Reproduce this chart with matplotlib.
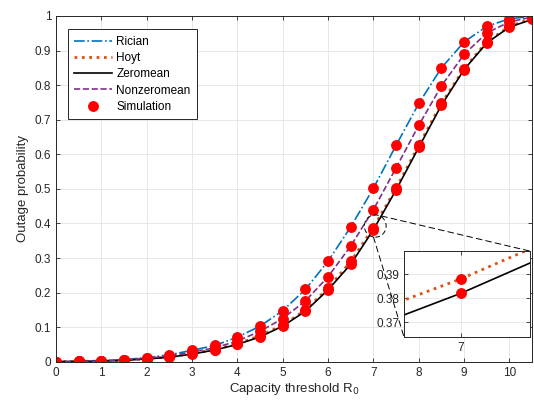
import matplotlib
matplotlib.use('Agg')
import matplotlib.pyplot as plt
from matplotlib.patches import Ellipse, ConnectionPatch

plt.rcParams['font.family'] = ['Liberation Sans', 'DejaVu Sans']

# capacity thresholds R0
thresholds = [0, 0.5, 1, 1.5, 2, 2.5, 3, 3.5, 4, 4.5, 5, 5.5,
              6, 6.5, 7, 7.5, 8, 8.5, 9, 9.5, 10, 10.5]

# outage probability per fading model
rician = [0, 0.001, 0.003, 0.006, 0.012, 0.02, 0.033, 0.047, 0.071, 0.103, 0.148, 0.209,
          0.291, 0.39, 0.502, 0.626, 0.747, 0.85, 0.925, 0.97, 0.992, 0.999]
hoyt = [0, 0.001, 0.002, 0.004, 0.009, 0.014, 0.024, 0.035, 0.052, 0.075, 0.106, 0.149,
        0.213, 0.29, 0.388, 0.502, 0.626, 0.747, 0.848, 0.925, 0.97, 0.993]
zeromean = [0, 0.001, 0.002, 0.004, 0.008, 0.013, 0.022, 0.034, 0.05, 0.072, 0.103, 0.146,
            0.208, 0.282, 0.382, 0.497, 0.62, 0.742, 0.845, 0.922, 0.968, 0.99]
nonzeromean = [0, 0.001, 0.002, 0.005, 0.01, 0.017, 0.028, 0.04, 0.06, 0.088, 0.125, 0.176,
               0.246, 0.335, 0.44, 0.561, 0.684, 0.798, 0.889, 0.951, 0.983, 0.997]

series = [
    ('Rician', rician, dict(color='#0072BD', linestyle='-.', linewidth=1.2)),
    ('Hoyt', hoyt, dict(color='#D95319', linestyle=':', linewidth=2.0)),
    ('Zeromean', zeromean, dict(color='black', linestyle='-', linewidth=1.2)),
    ('Nonzeromean', nonzeromean, dict(color='#7E2F8E', linestyle='--', linewidth=1.2)),
]

x_ticks = list(range(0, 11))
y_ticks = [0, 0.1, 0.2, 0.3, 0.4, 0.5, 0.6, 0.7, 0.8, 0.9, 1]
y_ticklabels = ['0', '0.1', '0.2', '0.3', '0.4', '0.5', '0.6', '0.7', '0.8', '0.9', '1']

axis_col = '#262626'
grid_col = '#e8e8e8'


def style_axes(a, size):
    a.tick_params(direction='in', top=True, right=True, labelsize=size,
                  colors=axis_col, length=3, width=0.6)
    for s in a.spines.values():
        s.set_color(axis_col)
        s.set_linewidth(0.7)
    a.grid(True, color=grid_col, linewidth=0.7)
    a.set_axisbelow(True)


fig = plt.figure(figsize=(5.34, 4.09), dpi=100)
ax = fig.add_axes([0.105, 0.1156, 0.8915, 0.8453])

for name, vals, kw in series:
    ax.plot(thresholds, vals, label=name, **kw)
for name, vals, kw in series:
    ax.plot(thresholds, vals, 'o', color='red', markersize=6.8, linestyle='none')
ax.plot([], [], 'o', color='red', markersize=6.8, linestyle='none', label='Simulation')

ax.set_xlim(0, 10.5)
ax.set_ylim(0, 1)
ax.set_xticks(x_ticks)
ax.set_yticks(y_ticks)
ax.set_yticklabels(y_ticklabels)
style_axes(ax, 8.5)
ax.set_xlabel('Capacity threshold R$_0$', fontsize=9.5, color=axis_col, labelpad=2)
ax.set_ylabel('Outage probability', fontsize=9.5, color=axis_col, labelpad=4)

leg = ax.legend(loc='upper left', bbox_to_anchor=(0.0245, 0.9615), fontsize=8.5,
                handlelength=3.2, fancybox=False, framealpha=1, borderpad=0.55,
                labelspacing=0.36, handletextpad=0.35, borderaxespad=0)
leg.get_frame().set_edgecolor(axis_col)
leg.get_frame().set_linewidth(0.7)

# zoom circle
ax.add_patch(Ellipse((7.04, 0.3925), 0.48, 0.0645, fill=False, edgecolor='black',
                     linestyle=(0, (5, 3)), linewidth=0.7, zorder=5))

# inset
axins = fig.add_axes([0.7566, 0.176, 0.236, 0.21])
for name, vals, kw in series:
    axins.plot(thresholds, vals, **kw)
    axins.plot(thresholds, vals, 'o', color='red', markersize=6.8, linestyle='none')
axins.set_xlim(6.955, 7.055)
axins.set_ylim(0.3638, 0.3996)
axins.set_xticks([7])
axins.set_yticks([0.37, 0.38, 0.39])
axins.set_yticklabels(['0.37', '0.38', '0.39'])
style_axes(axins, 8.5)

for start, corner in [((7.18, 0.4214), (1, 1)), ((7.0, 0.3607), (0, 0))]:
    con = ConnectionPatch(xyA=start, coordsA=ax.transData, xyB=corner,
                          coordsB=axins.transAxes, color='black',
                          linestyle=(0, (6, 4)), linewidth=0.7)
    fig.add_artist(con)

fig.savefig('out.png', dpi=100)
